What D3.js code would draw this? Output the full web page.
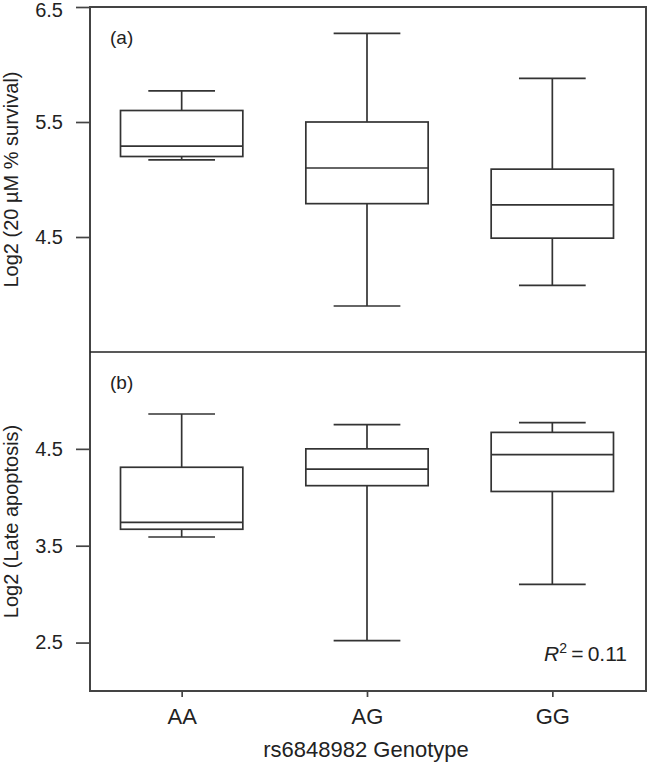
<!DOCTYPE html>
<html>
<head>
<meta charset="utf-8">
<script src="https://cdn.jsdelivr.net/npm/d3@7"></script>
<style>
  body { margin: 0; background: #fff; }
  svg { display: block; }
  text { font-family: "Liberation Sans", Arial, Helvetica, sans-serif; fill: #222; }
</style>
</head>
<body>
<svg id="chart" width="648" height="765"></svg>
<script>
// ---- data ----
const categories = ["AA", "AG", "GG"];

// panel (a): Log2 (20 µM % survival)
const survivalLow    = [5.17, 3.90, 4.08];
const survivalQ1     = [5.20, 4.79, 4.49];
const survivalMedian = [5.29, 5.10, 4.78];
const survivalQ3     = [5.60, 5.50, 5.09];
const survivalHigh   = [5.77, 6.27, 5.88];
const survivalTicks  = [4.5, 5.5, 6.5];

// panel (b): Log2 (Late apoptosis)
const apoptosisLow    = [3.59, 2.52, 3.10];
const apoptosisQ1     = [3.67, 4.12, 4.06];
const apoptosisMedian = [3.74, 4.29, 4.44];
const apoptosisQ3     = [4.31, 4.50, 4.67];
const apoptosisHigh   = [4.86, 4.75, 4.77];
const apoptosisTicks  = [2.5, 3.5, 4.5];

const rSquared = "0.11";

// ---- layout ----
const svg = d3.select("#chart");
const plotLeft = 90, plotRight = 646, plotTop = 7, plotMid = 352, plotBottom = 691;
const stroke = "#333";
const sw = 1.7;

const x = d3.scalePoint().domain(categories).range([plotLeft - 1, plotRight - 1]).padding(0.5);
const step = x.step();
const boxW = step * 0.66, capW = step * 0.36;

function panel(y0, y1, domain, ticks, low, q1, med, q3, high, label, title) {
  const y = d3.scaleLinear().domain(domain).range([y1, y0]);
  const g = svg.append("g");

  const rows = categories.map((c, i) => ({c, low: low[i], q1: q1[i], med: med[i], q3: q3[i], high: high[i]}));
  const b = g.selectAll("g.box").data(rows).join("g").attr("class", "box");
  b.append("line").attr("x1", d => x(d.c)).attr("x2", d => x(d.c))
    .attr("y1", d => y(d.q3)).attr("y2", d => y(d.high))
    .attr("stroke", stroke).attr("stroke-width", sw);
  b.append("line").attr("x1", d => x(d.c)).attr("x2", d => x(d.c))
    .attr("y1", d => y(d.q1)).attr("y2", d => y(d.low))
    .attr("stroke", stroke).attr("stroke-width", sw);
  b.append("line").attr("x1", d => x(d.c) - capW / 2).attr("x2", d => x(d.c) + capW / 2)
    .attr("y1", d => y(d.high)).attr("y2", d => y(d.high))
    .attr("stroke", stroke).attr("stroke-width", sw);
  b.append("line").attr("x1", d => x(d.c) - capW / 2).attr("x2", d => x(d.c) + capW / 2)
    .attr("y1", d => y(d.low)).attr("y2", d => y(d.low))
    .attr("stroke", stroke).attr("stroke-width", sw);
  b.append("rect").attr("x", d => x(d.c) - boxW / 2).attr("width", boxW)
    .attr("y", d => y(d.q3)).attr("height", d => y(d.q1) - y(d.q3))
    .attr("fill", "none").attr("stroke", stroke).attr("stroke-width", sw);
  b.append("line").attr("x1", d => x(d.c) - boxW / 2).attr("x2", d => x(d.c) + boxW / 2)
    .attr("y1", d => y(d.med)).attr("y2", d => y(d.med))
    .attr("stroke", stroke).attr("stroke-width", sw);

  const ax = g.append("g").attr("transform", `translate(${plotLeft},0)`)
    .call(d3.axisLeft(y).tickValues(ticks).tickFormat(d3.format(".1f")).tickSize(14).tickSizeOuter(0).tickPadding(13));
  ax.select(".domain").remove();
  ax.selectAll(".tick line").attr("stroke", "#444").attr("stroke-width", sw);
  ax.selectAll(".tick text").attr("font-size", 20).attr("fill", "#222")
    .style("font-family", '"Liberation Sans", Arial, sans-serif')
    .attr("dy", d => (y(d) < y0 + 5 ? "0.48em" : "0.32em"));

  g.append("text").attr("x", 110).attr("y", y0 + 37).attr("font-size", 19).text(label);

  g.append("text")
    .attr("transform", `translate(18,${(y0 + y1) / 2}) rotate(-90)`)
    .attr("text-anchor", "middle").attr("font-size", 20).text(title);
  return y;
}

panel(plotTop, plotMid, [3.5, 6.5], survivalTicks, survivalLow, survivalQ1, survivalMedian, survivalQ3, survivalHigh,
  "(a)", "Log2 (20 µM % survival)");
panel(plotMid, plotBottom, [2.0, 5.5], apoptosisTicks, apoptosisLow, apoptosisQ1, apoptosisMedian, apoptosisQ3, apoptosisHigh,
  "(b)", "Log2 (Late apoptosis)");

// frame
svg.append("rect").attr("x", plotLeft).attr("y", plotTop).attr("width", plotRight - plotLeft).attr("height", plotBottom - plotTop)
  .attr("fill", "none").attr("stroke", "#444").attr("stroke-width", 2);
svg.append("line").attr("x1", plotLeft).attr("x2", plotRight).attr("y1", plotMid).attr("y2", plotMid)
  .attr("stroke", "#222").attr("stroke-width", 1.4);

// x axis
const xa = svg.append("g").attr("transform", `translate(0,${plotBottom})`)
  .call(d3.axisBottom(x).tickSize(6).tickSizeOuter(0).tickPadding(11));
xa.select(".domain").remove();
xa.selectAll(".tick line").attr("stroke", "#444").attr("stroke-width", sw);
xa.selectAll(".tick text").attr("font-size", 22).attr("fill", "#222")
  .style("font-family", '"Liberation Sans", Arial, sans-serif');

svg.append("text").attr("x", (plotLeft + plotRight) / 2 - 2).attr("y", 757).attr("text-anchor", "middle")
  .attr("font-size", 22).text("rs6848982 Genotype");

// R squared
const r = svg.append("text").attr("x", 627).attr("y", 661).attr("text-anchor", "end").attr("font-size", 21);
r.append("tspan").attr("font-style", "italic").text("R");
r.append("tspan").attr("font-size", 14).attr("dy", -8).text("2");
r.append("tspan").attr("dy", 8).text("\u2009=\u2009" + rSquared);
</script>
</body>
</html>
